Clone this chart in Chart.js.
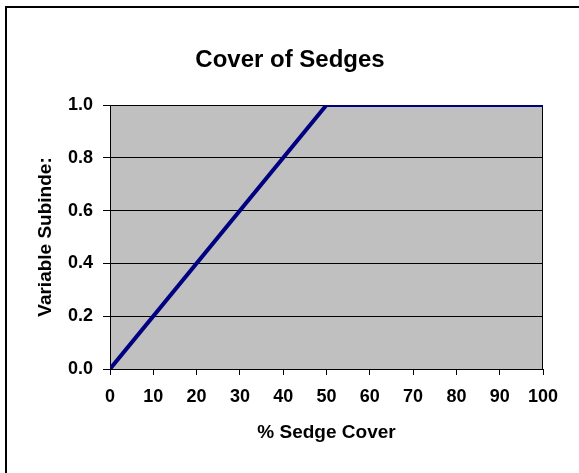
<!DOCTYPE html>
<html>
<head>
<meta charset="utf-8">
<script src="https://cdn.jsdelivr.net/npm/chart.js@4.4.0/dist/chart.umd.min.js"></script>
<style>
    body { margin: 0; background: #fff; }
    #frame {
        position: absolute; left: 5px; top: 6px; width: 600px; height: 500px;
        border-left: 2px solid #000; border-top: 2px solid #000;
    }
    #wrap { position: absolute; left: 0; top: 0; width: 579px; height: 473px; }
</style>
</head>
<body>
<div id="frame"></div>
<div id="wrap"><canvas id="sedgeChart" width="579" height="473"></canvas></div>
<script>
// values
const sedgeCover = [0, 50, 100];
const subindex = [0, 1.0, 1.0];
const xTicks = [0, 10, 20, 30, 40, 50, 60, 70, 80, 90, 100];
const yTicks = [0.0, 0.2, 0.4, 0.6, 0.8, 1.0];

const FONT = 'Arial, "Liberation Sans", sans-serif';

// grey plot area + right edge of the frame, like the old Excel look
const plotArea = {
    id: 'plotArea',
    beforeDraw(chart) {
        const a = chart.chartArea;
        const ctx = chart.ctx;
        ctx.save();
        ctx.fillStyle = '#c0c0c0';
        ctx.fillRect(a.left, a.top, a.right - a.left, a.bottom - a.top);
        ctx.restore();
    },
    beforeDatasetsDraw(chart) {
        const a = chart.chartArea;
        const ctx = chart.ctx;
        ctx.save();
        ctx.strokeStyle = '#000';
        ctx.lineWidth = 1;
        ctx.beginPath();
        ctx.moveTo(Math.round(a.right) - 0.5, a.top);
        ctx.lineTo(Math.round(a.right) - 0.5, a.bottom);
        ctx.stroke();
        ctx.restore();
    }
};

const points = sedgeCover.map((x, i) => ({ x: x, y: subindex[i] }));

new Chart(document.getElementById('sedgeChart').getContext('2d'), {
    type: 'line',
    data: {
        datasets: [{
            data: points,
            borderColor: '#000080',
            borderWidth: 4,
            pointRadius: 0,
            tension: 0,
            clip: 0
        }]
    },
    options: {
        responsive: false,
        animation: false,
        // left padding keeps the title centred on the whole picture
        layout: { padding: { left: 37, right: 36, top: 0, bottom: 0 } },
        plugins: {
            legend: { display: false },
            tooltip: { enabled: false },
            title: {
                display: true,
                text: 'Cover of Sedges',
                color: '#000',
                font: { family: FONT, size: 24, weight: 'bold' },
                padding: { top: 46, bottom: 30.2 }
            }
        },
        scales: {
            x: {
                type: 'linear',
                position: 'bottom',
                min: 0,
                max: 100,
                afterBuildTicks: scale => { scale.ticks = xTicks.map(v => ({ value: v })); },
                afterFit: scale => { scale.height = 104; },
                ticks: {
                    color: '#000',
                    font: { family: FONT, size: 18, weight: 'bold' },
                    padding: 11,
                    autoSkip: false,
                    maxRotation: 0
                },
                grid: { drawOnChartArea: false, drawTicks: true, tickLength: 6, color: '#000' },
                border: { display: true, color: '#000' },
                title: {
                    display: true,
                    text: '% Sedge Cover',
                    color: '#000',
                    font: { family: FONT, size: 19, weight: 'bold' },
                    padding: { top: 0, bottom: 29 }
                }
            },
            y: {
                min: 0,
                max: 1,
                afterBuildTicks: scale => { scale.ticks = yTicks.map(v => ({ value: v })); },
                afterFit: scale => { scale.width = 73; },
                ticks: {
                    color: '#000',
                    font: { family: FONT, size: 18, weight: 'bold' },
                    padding: 10,
                    callback: v => v.toFixed(1)
                },
                grid: { color: '#000', drawTicks: true, tickLength: 7 },
                border: { display: true, color: '#000' },
                title: {
                    display: true,
                    text: 'Variable Subinde:',
                    color: '#000',
                    font: { family: FONT, size: 19, weight: 'bold' },
                    padding: { top: -3, bottom: 0 }
                }
            }
        }
    },
    plugins: [plotArea]
});
</script>
</body>
</html>
